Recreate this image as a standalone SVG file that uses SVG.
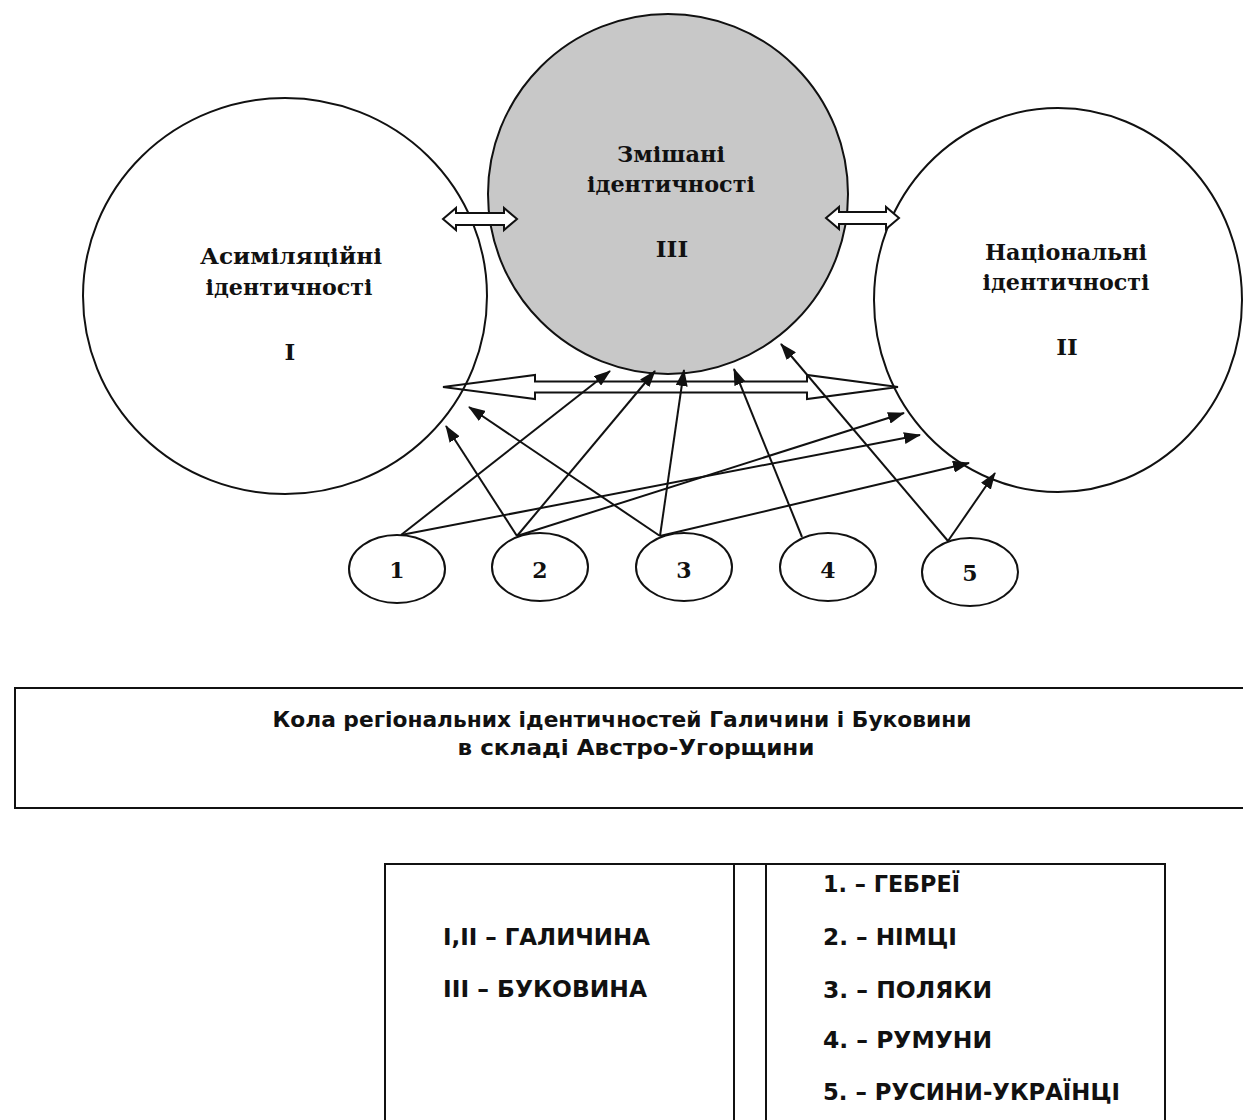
<svg xmlns="http://www.w3.org/2000/svg" width="1243" height="1120" viewBox="0 0 1243 1120">
<defs>
<style>
.ring{fill:none;stroke:#111;stroke-width:2}
.lbl{font-family:"DejaVu Serif","Liberation Serif",serif;font-weight:bold;font-size:23px;fill:#111;text-anchor:middle}
.num{font-family:"DejaVu Serif","Liberation Serif",serif;font-weight:bold;font-size:22px;fill:#111;text-anchor:middle}
.con{stroke:#111;stroke-width:2;fill:none;marker-end:url(#ah)}
.blk{fill:#fff;stroke:#111;stroke-width:2;stroke-linejoin:miter}
.cap{font-family:"DejaVu Sans","Liberation Sans",sans-serif;font-weight:bold;font-size:21px;fill:#111;text-anchor:middle}
.leg{font-family:"DejaVu Sans","Liberation Sans",sans-serif;font-weight:bold;font-size:23px;fill:#111}
.box{fill:none;stroke:#111;stroke-width:2}
</style>
<marker id="ah" markerUnits="userSpaceOnUse" markerWidth="17" markerHeight="12" refX="16" refY="6" orient="auto">
<path d="M0,0 L17,6 L0,12 z" fill="#111"/>
</marker>
</defs>
<rect width="1243" height="1120" fill="#fff"/>

<g id="node-I">
<ellipse class="ring" cx="285" cy="296" rx="202" ry="198"/>
<text class="lbl" x="291" y="264" textLength="182" lengthAdjust="spacingAndGlyphs">Асиміляційні</text>
<text class="lbl" x="289" y="295" textLength="167" lengthAdjust="spacingAndGlyphs">ідентичності</text>
<text class="lbl" x="290" y="360">I</text>
</g>

<g id="node-II">
<ellipse class="ring" cx="1058" cy="300" rx="184" ry="192"/>
<text class="lbl" x="1066" y="260" textLength="162" lengthAdjust="spacingAndGlyphs">Національні</text>
<text class="lbl" x="1066" y="290" textLength="167" lengthAdjust="spacingAndGlyphs">ідентичності</text>
<text class="lbl" x="1067" y="355">II</text>
</g>

<g id="node-III">
<circle cx="668" cy="194" r="180" fill="#c8c8c8" stroke="#111" stroke-width="2"/>
<text class="lbl" x="671" y="162" textLength="108" lengthAdjust="spacingAndGlyphs">Змішані</text>
<text class="lbl" x="671" y="192" textLength="168" lengthAdjust="spacingAndGlyphs">ідентичності</text>
<text class="lbl" x="672" y="257">III</text>
</g>

<g id="node-1">
<ellipse class="ring" cx="397" cy="569" rx="48" ry="34"/>
<text class="num" x="397" y="578">1</text>
</g>
<g id="node-2">
<ellipse class="ring" cx="540" cy="567" rx="48" ry="34"/>
<text class="num" x="540" y="578">2</text>
</g>
<g id="node-3">
<ellipse class="ring" cx="684" cy="567" rx="48" ry="34"/>
<text class="num" x="684" y="578">3</text>
</g>
<g id="node-4">
<ellipse class="ring" cx="828" cy="567" rx="48" ry="34"/>
<text class="num" x="828" y="578">4</text>
</g>
<g id="node-5">
<ellipse class="ring" cx="970" cy="572" rx="48" ry="34"/>
<text class="num" x="970" y="581">5</text>
</g>

<g id="connectors">
<polygon class="blk" points="443,219 456,208 456,213 504,213 504,208 517,219 504,230 504,225 456,225 456,230"/>
<polygon class="blk" points="826,218 839,207 839,212 886,212 886,207 899,218 886,229 886,224 839,224 839,229"/>
<polygon fill="none" stroke="#111" stroke-width="2" points="443,387 535,375 535,381.5 807,381.5 807,375 898,387 807,399 807,392.5 535,392.5 535,399"/>
<line class="con" x1="401" y1="535" x2="610" y2="371"/>
<line class="con" x1="401" y1="535" x2="920" y2="435"/>
<line class="con" x1="517" y1="536" x2="446" y2="426"/>
<line class="con" x1="517" y1="536" x2="655" y2="371"/>
<line class="con" x1="517" y1="536" x2="904" y2="413"/>
<line class="con" x1="660" y1="536" x2="469" y2="407"/>
<line class="con" x1="660" y1="536" x2="684" y2="370"/>
<line class="con" x1="660" y1="536" x2="969" y2="463"/>
<line class="con" x1="802" y1="537" x2="734" y2="369"/>
<line class="con" x1="948" y1="541" x2="781" y2="344"/>
<line class="con" x1="948" y1="541" x2="995" y2="473"/>
</g>

<g id="caption">
<polyline class="box" points="1243,688 15,688 15,808 1243,808"/>
<text class="cap" x="622" y="727" textLength="699" lengthAdjust="spacingAndGlyphs">Кола регіональних ідентичностей Галичини і Буковини</text>
<text class="cap" x="636" y="755" textLength="357" lengthAdjust="spacingAndGlyphs">в складі Австро-Угорщини</text>
</g>

<g id="legend">
<rect class="box" x="385" y="864" width="780" height="270"/>
<line class="box" x1="734" y1="864" x2="734" y2="1120"/>
<line class="box" x1="766" y1="864" x2="766" y2="1120"/>
<text class="leg" x="443" y="945" textLength="207" lengthAdjust="spacingAndGlyphs">I,II – ГАЛИЧИНА</text>
<text class="leg" x="443" y="997" textLength="204" lengthAdjust="spacingAndGlyphs">III – БУКОВИНА</text>
<text class="leg" x="823" y="892" textLength="137" lengthAdjust="spacingAndGlyphs">1. – ГЕБРЕЇ</text>
<text class="leg" x="823" y="945" textLength="134" lengthAdjust="spacingAndGlyphs">2. – НІМЦІ</text>
<text class="leg" x="823" y="998" textLength="169" lengthAdjust="spacingAndGlyphs">3. – ПОЛЯКИ</text>
<text class="leg" x="823" y="1048" textLength="169" lengthAdjust="spacingAndGlyphs">4. – РУМУНИ</text>
<text class="leg" x="823" y="1100" textLength="297" lengthAdjust="spacingAndGlyphs">5. – РУСИНИ-УКРАЇНЦІ</text>
</g>
</svg>
